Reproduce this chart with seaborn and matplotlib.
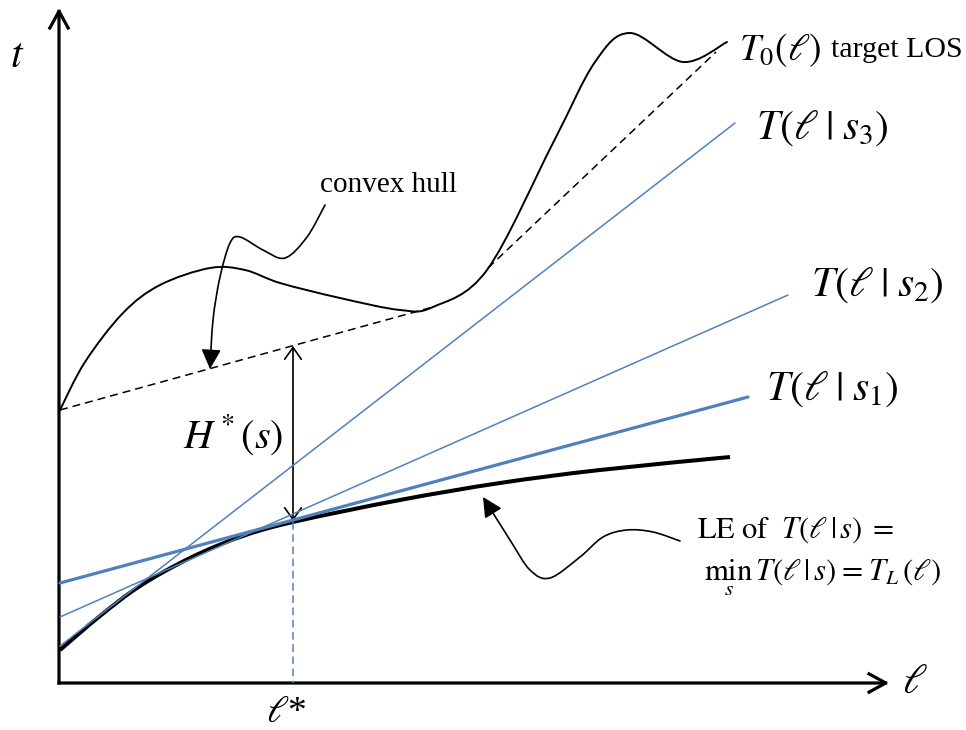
import numpy as np
import matplotlib
matplotlib.use("Agg")
import matplotlib.pyplot as plt
from matplotlib.path import Path
from matplotlib.patches import PathPatch, FancyArrowPatch
import seaborn as sns

# ---- diagram geometry (canvas units, y grows downward) ----
origin = (59, 683)
y_axis_tip = (59, 8)
x_axis_tip = (889, 683)

# target level-of-service curve T0(l)
t0_x = [60, 85, 123, 160, 210, 245, 280, 340, 400, 433, 487, 553, 595, 630, 683, 727]
t0_y = [410, 362, 313, 285, 268, 270, 283, 298, 310, 307, 270, 143, 62, 33, 62, 42]

# lower envelope T_L(l)
le_x = [60, 100, 140, 190, 240, 293, 400, 500, 600, 730]
le_y = [650, 616, 586, 558, 537, 522, 500, 483, 470, 457]

# supporting lines T(l | s_k)
s_names = ["s1", "s2", "s3"]
s_x0 = [60, 60, 60]
s_y0 = [583, 617, 646]
s_x1 = [748, 788, 735]
s_y1 = [397, 295, 123]
s_width = [2.3, 1.1, 1.1]

# convex hull pieces (dashed)
hull_x = [[60, 433], [488, 716]]
hull_y = [[410, 307], [268, 52]]

# optimal length and hull gap
l_star = 293
h_top, h_bottom = 346, 521

# pointer paths
hull_ptr_x = [325, 307, 285, 263, 240, 230, 220, 213, 210]
hull_ptr_y = [205, 237, 258, 250, 237, 243, 277, 320, 369]
le_ptr_x = [680, 653, 627, 603, 580, 550, 530, 510, 483]
le_ptr_y = [541, 532, 530, 537, 557, 578, 570, 540, 497]

BLUE = "#4F81BD"


def smooth_path(xs, ys):
    """Cubic Bezier path passing through the given knots (Catmull-Rom tangents)."""
    P = np.column_stack([xs, ys]).astype(float)
    n = len(P)
    verts = [P[0]]
    codes = [Path.MOVETO]
    for i in range(n - 1):
        p0 = P[i - 1] if i > 0 else P[i]
        p1, p2 = P[i], P[i + 1]
        p3 = P[i + 2] if i + 2 < n else P[i + 1]
        verts += [p1 + (p2 - p0) / 6.0, p2 - (p3 - p1) / 6.0, p2]
        codes += [Path.CURVE4] * 3
    return Path(verts, codes)


sns.set_theme(style="white")
plt.rcParams["mathtext.fontset"] = "stix"
plt.rcParams["font.family"] = ["Liberation Serif", "DejaVu Serif"]
plt.rcParams["text.color"] = "black"

fig = plt.figure(figsize=(9.66, 7.3), dpi=100)
ax = fig.add_axes([0, 0, 1, 1])

# supporting lines
for x0, y0, x1, y1, w in zip(s_x0, s_y0, s_x1, s_y1, s_width):
    sns.lineplot(x=[x0, x1], y=[y0, y1], color=BLUE, lw=w, ax=ax)

# convex hull dashed segments
for hx, hy in zip(hull_x, hull_y):
    sns.lineplot(x=hx, y=hy, color="black", lw=1.1,
                 linestyle=(0, (5.2, 3.3)), ax=ax)

# vertical guide at l*
sns.lineplot(x=[l_star, l_star], y=[le_y[5], origin[1]], color=BLUE, lw=1.1,
             linestyle=(0, (5, 3)), orient="y", ax=ax)

# curves
ax.add_patch(PathPatch(smooth_path(t0_x, t0_y), fill=False, lw=1.4,
                       ec="black", capstyle="round"))
ax.add_patch(PathPatch(smooth_path(le_x, le_y), fill=False, lw=2.9,
                       ec="black", capstyle="butt"))

# axes arrows
for tip in (y_axis_tip, x_axis_tip):
    ax.add_patch(FancyArrowPatch(origin, tip, arrowstyle="->,head_length=0.6,head_width=0.33",
                                 mutation_scale=20, lw=2.3, color="black",
                                 shrinkA=0, shrinkB=0, capstyle="projecting"))

# H*(s) double arrow
ax.add_patch(FancyArrowPatch((l_star, h_bottom), (l_star, h_top),
                             arrowstyle="<->,head_length=0.85,head_width=0.6",
                             mutation_scale=10, lw=1.2, color="black",
                             shrinkA=0, shrinkB=0))

# curved pointers
ax.add_patch(FancyArrowPatch(path=smooth_path(hull_ptr_x, hull_ptr_y),
                             arrowstyle="-|>,head_length=0.6,head_width=0.3",
                             mutation_scale=20, lw=1.2, color="black"))
ax.add_patch(FancyArrowPatch(path=smooth_path(le_ptr_x, le_ptr_y),
                             arrowstyle="-|>,head_length=0.6,head_width=0.3",
                             mutation_scale=20, lw=1.2, color="black"))

# labels
MS = 30
ax.text(17, 57, r"$t$", fontsize=MS, ha="center", va="center")
ax.text(915, 683, r"$\ell$", fontsize=MS, ha="center", va="center")
ax.text(286, 713, r"$\ell$*", fontsize=27, ha="center", va="center")
ax.text(739, 50, r"$T_0(\ell)$", fontsize=27, ha="left", va="center")
ax.text(831, 50, "target LOS", fontsize=21.5, ha="left", va="center")
ax.text(756, 128, r"$T(\ell\;|\;s_3)$", fontsize=MS, ha="left", va="center")
ax.text(811, 285, r"$T(\ell\;|\;s_2)$", fontsize=MS, ha="left", va="center")
ax.text(766, 389, r"$T(\ell\;|\;s_1)$", fontsize=MS, ha="left", va="center")
ax.text(183, 435, r"$H^*(s)$", fontsize=29, ha="left", va="center")
ax.text(320, 185, "convex hull", fontsize=21, ha="left", va="center")
ax.text(697, 530, r"$\mathrm{LE\ of}\ \ T(\ell\,|\,s)\;=$", fontsize=22, ha="left", va="center")
ax.text(704, 578, r"$\min_{s}\, T(\ell\,|\,s)\;=\;T_L(\ell)$", fontsize=22, ha="left", va="center")

ax.set_xlim(0, 966)
ax.set_ylim(730, 0)
ax.axis("off")
fig.savefig("out.png", dpi=100)
